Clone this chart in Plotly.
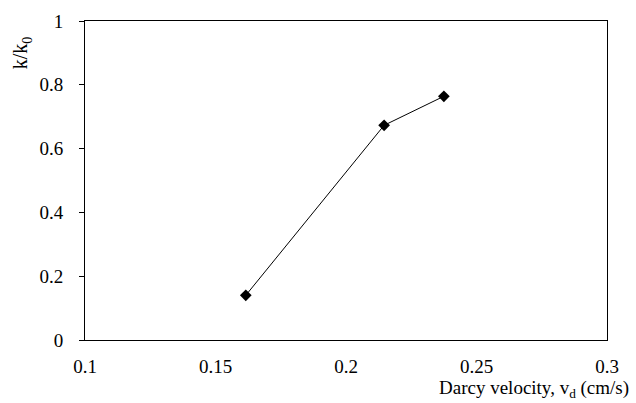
import plotly.graph_objects as go

darcy_velocity = [0.1616, 0.2146, 0.2375]
k_ratio = [0.140, 0.673, 0.764]

x_ticks = [0.1, 0.15, 0.2, 0.25, 0.3]
x_tick_labels = ["0.1", "0.15", "0.2", "0.25", "0.3"]
y_ticks = [0, 0.2, 0.4, 0.6, 0.8, 1]
y_tick_labels = ["0", "0.2", "0.4", "0.6", "0.8", "1"]

font_family = "Liberation Serif"
tick_font = dict(family=font_family, size=19, color="black")

fig = go.Figure()
fig.add_trace(go.Scatter(
    x=darcy_velocity, y=k_ratio, mode="lines+markers",
    line=dict(color="black", width=1),
    marker=dict(symbol="diamond", size=9, color="black"),
    showlegend=False,
))

fig.update_layout(
    width=636, height=403,
    margin=dict(l=85, r=29, t=11, b=63),
    paper_bgcolor="white", plot_bgcolor="white",
    font=dict(family=font_family, size=19, color="black"),
    xaxis=dict(
        range=[0.1, 0.3], tickvals=x_ticks, ticktext=x_tick_labels,
        tickfont=tick_font,
        showgrid=False, zeroline=False, showline=True, mirror=True,
        linecolor="black", linewidth=1, ticks="", ticklabelstandoff=9,
    ),
    yaxis=dict(
        range=[0, 1], tickvals=y_ticks, ticktext=y_tick_labels,
        tickfont=tick_font,
        showgrid=False, zeroline=False, showline=True, mirror=True,
        linecolor="black", linewidth=1, ticks="outside", ticklen=5,
        tickcolor="black", ticklabelstandoff=12,
    ),
    annotations=[
        dict(text="Darcy velocity, v<sub>d</sub> (cm/s)", xref="paper", yref="paper",
             x=1.046, y=-0.155, xanchor="right", yanchor="middle",
             showarrow=False, font=dict(family=font_family, size=19)),
        dict(text="k/k<sub>0</sub>", xref="paper", yref="paper",
             x=-0.12, y=0.9, xanchor="center", yanchor="middle", textangle=-90,
             showarrow=False, font=dict(family=font_family, size=20)),
    ],
)

fig.write_html("out.html")
